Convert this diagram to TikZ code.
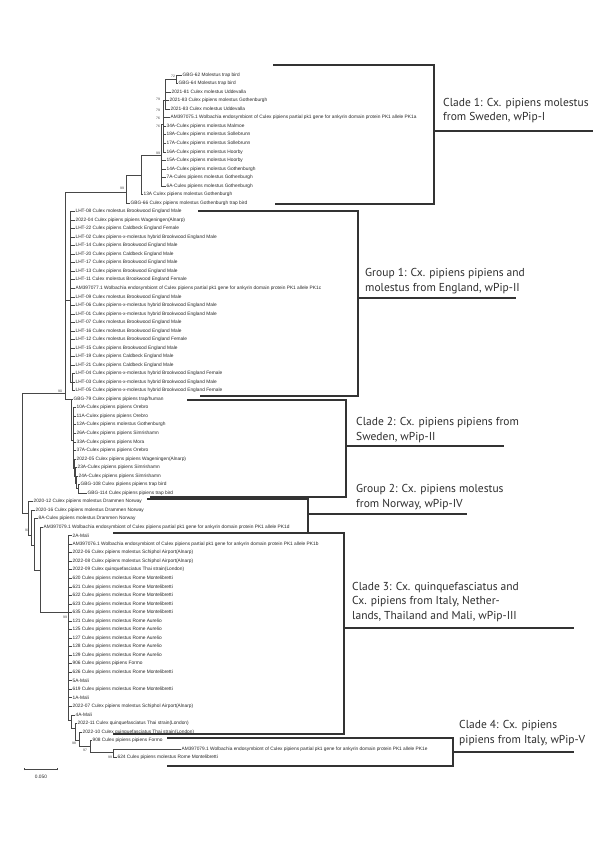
\documentclass[tikz,border=0pt]{standalone}
\usepackage{fontspec}
\setmainfont{Liberation Sans}
\newfontfamily\cladefam{PT Sans}
\newcommand\leaffont{\fontsize{4.8}{5}\selectfont}
\newcommand\supfont{\fontsize{3.4}{4}\selectfont}
\newcommand\cladefont{\cladefam\fontsize{11.5}{14.5}\selectfont}
\newcommand\wolb{Wolbachia endosymbiont of Culex pipiens partial pk1 gene for ankyrin domain protein PK1 allele}
\newcommand\lf[4]{\node[leaf] (#1) at (#2,{75+8.53*(#3)}) {#4};}
\newcommand\edg[2]{\draw[br] (#1) |- (#2.west);}
\newcommand\edn[2]{\draw[br] (#1) |- (#2);}
\tikzset{
  leaf/.style={anchor=west, inner sep=0.4pt, font=\leaffont, text=black!85},
  br/.style={draw=black!72, line width=0.5pt},
  brk/.style={draw=black!80, line width=2.3pt, line join=miter},
  clab/.style={anchor=base west, font=\cladefont, text=black!82, align=left, inner sep=0pt},
  sup/.style={font=\supfont, inner sep=0pt, text=black!75},
}
\begin{document}
\begin{tikzpicture}[x=1pt,y=-1pt]
\useasboundingbox[fill=white] (0,0) rectangle (600,850);

% ---------- Clade 1 ----------
\lf{c1a}{182}{0}{GBG-62 Molestus trap bird}
\lf{c1b}{178}{1}{GBG-64 Molestus trap bird}
\lf{c1c}{171}{2}{2021-81 Culex molestus Uddevalla}
\lf{c1d}{169}{3}{2021-83 Culex pipiens molestus Gothenburgh}
\lf{c1e}{170}{4}{2021-83 Culex molestus Uddevalla}
\lf{c1f}{170}{5}{AM397075.1 \wolb{} PK1a}
\foreach \t [count=\i from 6] in {34A-Culex pipiens molestus Malmoe,18A-Culex pipiens molestus Sollebrunn,17A-Culex pipiens molestus Sollebrunn,16A-Culex pipiens molestus Hoorby,15A-Culex pipiens molestus Hoorby,14A-Culex pipiens molestus Gothenburgh,7A-Culex pipiens molestus Gothenburgh,6A-Culex pipiens molestus Gothenburgh}
  {\node[leaf] (a\i) at (166,{75+8.53*\i}) {\t};}
\lf{c1o}{143}{14}{13A Culex pipiens molestus Gothenburgh}
\lf{c1p}{130}{15}{GBG-66 Culex pipiens molestus Gothenburgh trap bird}

\coordinate (G) at (176,79.3);
\coordinate (K3) at (165,100);
\coordinate (K2) at (163,124);
\coordinate (K) at (161,155);
\coordinate (S) at (141,175);
\coordinate (R1) at (126,192);
\edg{G}{c1a}\edg{G}{c1b}
\edn{K3}{G}\edg{K3}{c1c}\edg{K3}{c1d}\edg{K3}{c1e}
\edn{K2}{K3}\edg{K2}{c1f}
\foreach \i in {6,...,9} {\edg{K2}{a\i}}
\edn{K}{K2}
\foreach \i in {10,...,13} {\edg{K}{a\i}}
\edn{S}{K}\edg{S}{c1o}
\edn{R1}{S}\edg{R1}{c1p}

\node[sup] (s1) at (173,76.5) {72};
\node[sup] (s2) at (158,99) {79};
\node[sup] (s3) at (158,110) {79};
\node[sup] (s4) at (158,118) {76};
\node[sup] (s5) at (158,126) {76};
\node[sup] (s6) at (158,153) {99};
\node[sup] (s7) at (122,188) {99};

% ---------- Group 1 ----------
\foreach \t [count=\i from 16] in {LHT-08 Culex molestus Brookwood England Male,2022-04 Culex pipiens pipiens Wageningen(Alnarp),LHT-22 Culex pipiens Caldbeck England Female,LHT-02 Culex pipiens-x-molestus hybrid Brookwood England Male,LHT-14 Culex pipiens Brookwood England Male,LHT-20 Culex pipiens Caldbeck England Male,LHT-17 Culex pipiens Brookwood England Male,LHT-13 Culex pipiens Brookwood England Male,LHT-11 Culex molestus Brookwood England Female,AM397077.1 \wolb{} PK1c,LHT-09 Culex molestus Brookwood England Male,LHT-06 Culex pipiens-x-molestus hybrid Brookwood England Male,LHT-01 Culex pipiens-x-molestus hybrid Brookwood England Male,LHT-07 Culex molestus Brookwood England Male,LHT-16 Culex molestus Brookwood England Male,LHT-12 Culex molestus Brookwood England Female,LHT-15 Culex pipiens Brookwood England Male,LHT-19 Culex pipiens Caldbeck England Male,LHT-21 Culex pipiens Caldbeck England Male,LHT-04 Culex pipiens-x-molestus hybrid Brookwood England Female,LHT-03 Culex pipiens-x-molestus hybrid Brookwood England Male,LHT-05 Culex pipiens-x-molestus hybrid Brookwood England Female}
  {\node[leaf] (g\i) at (75,{75+8.53*\i}) {\t};}
\coordinate (G1) at (70,300);
\coordinate (G1b) at (72.5,382);
\foreach \i in {16,...,34} {\edg{G1}{g\i}}
\edn{G1}{G1b}
\foreach \i in {35,36,37} {\edg{G1b}{g\i}}

% ---------- Clade 2 ----------
\lf{c2a}{73}{38}{GBG-79 Culex pipiens pipiens trap/human}
\foreach \t [count=\i from 39] in {10A-Culex pipiens pipiens Orebro,11A-Culex pipiens pipiens Orebro,12A-Culex pipiens molestus Gothenburgh,26A-Culex pipiens pipiens Simrishamn,33A-Culex pipiens pipiens Mora,37A-Culex pipiens pipiens Orebro}
  {\node[leaf] (b\i) at (76,{75+8.53*\i}) {\t};}
\lf{c2h}{76}{45}{2022-05 Culex pipiens pipiens Wageningen(Alnarp)}
\lf{c2i}{77}{46}{23A-Culex pipiens pipiens Simrishamn}
\lf{c2j}{78}{47}{24A-Culex pipiens pipiens Simrishamn}
\lf{c2k}{80}{48}{GBG-108 Culex pipiens pipiens trap bird}
\lf{c2l}{87}{49}{GBG-114 Culex pipiens pipiens trap bird}
\coordinate (C2) at (71,399);
\coordinate (C2b) at (73,440);
\coordinate (C2c) at (74.5,468);
\coordinate (C2d) at (75.5,476);
\coordinate (C2e) at (76.5,483);
\coordinate (C2f) at (78,488);
\edg{C2}{c2a}\edn{C2}{C2b}
\foreach \i in {39,...,44} {\edg{C2b}{b\i}}
\edn{C2b}{C2c}\edg{C2c}{c2h}\edn{C2c}{C2d}
\edg{C2d}{c2i}\edn{C2d}{C2e}
\edg{C2e}{c2j}\edn{C2e}{C2f}
\edg{C2f}{c2k}\edg{C2f}{c2l}

% ---------- upper join and root ----------
\coordinate (A) at (65,393);
\coordinate (R) at (22,453);
\edn{A}{R1}\edn{A}{G1}\edn{A}{C2}
\node[sup] (s8) at (60,391) {90};

% ---------- Norway ----------
\lf{n1}{33}{50}{2020-12 Culex pipiens molestus Drammen Norway}
\lf{n2}{35}{51}{2020-16 Culex pipiens molestus Drammen Norway}
\lf{n3}{38}{52}{8A-Culex pipiens molestus Drammen Norway}
\lf{n4}{43}{53}{AM397079.1 \wolb{} PK1d}
\coordinate (N1) at (28,513);
\coordinate (N2) at (31,535);
\coordinate (N3) at (34,545);
\coordinate (N4) at (40,570);
\edn{R}{A}\edn{R}{N1}
\edg{N1}{n1}\edn{N1}{N2}
\edg{N2}{n2}\edn{N2}{N3}
\edg{N3}{n3}\edn{N3}{N4}
\edg{N4}{n4}
\node[sup] (s9) at (27,530) {91};

% ---------- Clade 3 ----------
\foreach \t [count=\i from 54] in {2A-Mali,AM397076.1 \wolb{} PK1b,2022-06 Culex pipiens molestus Schiphol Airport(Alnarp),2022-08 Culex pipiens molestus Schiphol Airport(Alnarp),2022-09 Culex quinquefasciatus Thai strain(London),620 Culex pipiens molestus Rome Montelibretti,621 Culex pipiens molestus Rome Montelibretti,622 Culex pipiens molestus Rome Montelibretti,623 Culex pipiens molestus Rome Montelibretti,635 Culex pipiens molestus Rome Montelibretti,121 Culex pipiens molestus Rome Aurelio,125 Culex pipiens molestus Rome Aurelio,127 Culex pipiens molestus Rome Aurelio,128 Culex pipiens molestus Rome Aurelio,129 Culex pipiens molestus Rome Aurelio,906 Culex pipiens pipiens Formo,626 Culex pipiens molestus Rome Montelibretti,5A-Mali,619 Culex pipiens molestus Rome Montelibretti,1A-Mali,2022-07 Culex pipiens molestus Schiphol Airport(Alnarp)}
  {\node[leaf] (m\i) at (72,{75+8.53*\i}) {\t};}
\lf{c3v}{75}{75}{4A-Mali}
\lf{c3w}{77}{76}{2022-11 Culex quinquefasciatus Thai strain(London)}
\lf{c3x}{82}{77}{2022-10 Culex quinquefasciatus Thai strain(London)}
\lf{c4a}{92}{78}{908 Culex pipiens pipiens Formo}
\lf{c4b}{181}{79}{AM397079.1 \wolb{} PK1e}
\lf{c4c}{117}{80}{624 Culex pipiens molestus Rome Montelibretti}
\coordinate (C3) at (68,612);
\coordinate (C3b) at (71,720);
\coordinate (C3c) at (75,728);
\coordinate (C3d) at (79,740);
\coordinate (C4) at (90,746);
\coordinate (C4b) at (113,752);
\edn{N4}{C3}
\foreach \i in {54,...,74} {\edg{C3}{m\i}}
\edn{C3}{C3b}\edg{C3b}{c3v}\edn{C3b}{C3c}
\edg{C3c}{c3w}\edn{C3c}{C3d}
\edg{C3d}{c3x}\edn{C3d}{C4}
\edg{C4}{c4a}\edn{C4}{C4b}
\edg{C4b}{c4b}\edg{C4b}{c4c}
\node[sup] (s10) at (65,617) {99};
\node[sup] (s11) at (74,743) {98};
\node[sup] (s12) at (85,750) {97};
\node[sup] (s13) at (110,757) {99};

% ---------- scale bar ----------
\coordinate (sb1) at (24,769);
\coordinate (sb2) at (57,769);
\draw[br] (sb1) -- (sb2);
\draw[br] ([yshift=-1.2pt]sb1) -- ([yshift=1.2pt]sb1);
\draw[br] ([yshift=-1.2pt]sb2) -- ([yshift=1.2pt]sb2);
\node[leaf, anchor=center] (sbl) at (41,777) {0.050};

% ---------- clade brackets ----------
\draw[brk] (273,65) -- (434,65) -- (434,204) -- (275,204);
\draw[brk] (434,131) -- (593,131);
\draw[brk] (198,211) -- (358,211) -- (358,396) -- (200,396);
\draw[brk] (358,298) -- (516,298);
\draw[brk] (187,400) -- (346,400) -- (346,497) -- (150,497);
\draw[brk] (346,446) -- (504,446);
\draw[brk] (147,499) -- (308,499) -- (308,533);
\draw[brk] (308,514) -- (467,514);
\draw[brk] (113,533) -- (344,533) -- (344,734) -- (113,734);
\draw[brk] (344,628) -- (574,628);
\draw[brk] (167,738) -- (453,738) -- (453,766) -- (167,766);
\draw[brk] (453,752) -- (574,752);

% ---------- clade labels (base = last line) ----------
\node[clab] (L1) at (443,121) {Clade 1: Cx. pipiens molestus\\from Sweden, wPip-I};
\node[clab] (L2) at (365,291) {Group 1: Cx. pipiens pipiens and\\molestus from England, wPip-II};
\node[clab] (L3) at (356,440) {Clade 2: Cx. pipiens pipiens from\\Sweden, wPip-II};
\node[clab] (L4) at (356,507) {Group 2: Cx. pipiens molestus\\from Norway, wPip-IV};
\node[clab] (L5) at (352,619) {Clade 3: Cx. quinquefasciatus and\\Cx. pipiens from Italy, Nether-\\lands, Thailand and Mali, wPip-III};
\node[clab] (L6) at (459,743) {Clade 4: Cx. pipiens\\pipiens from Italy, wPip-V};
\end{tikzpicture}
\end{document}
